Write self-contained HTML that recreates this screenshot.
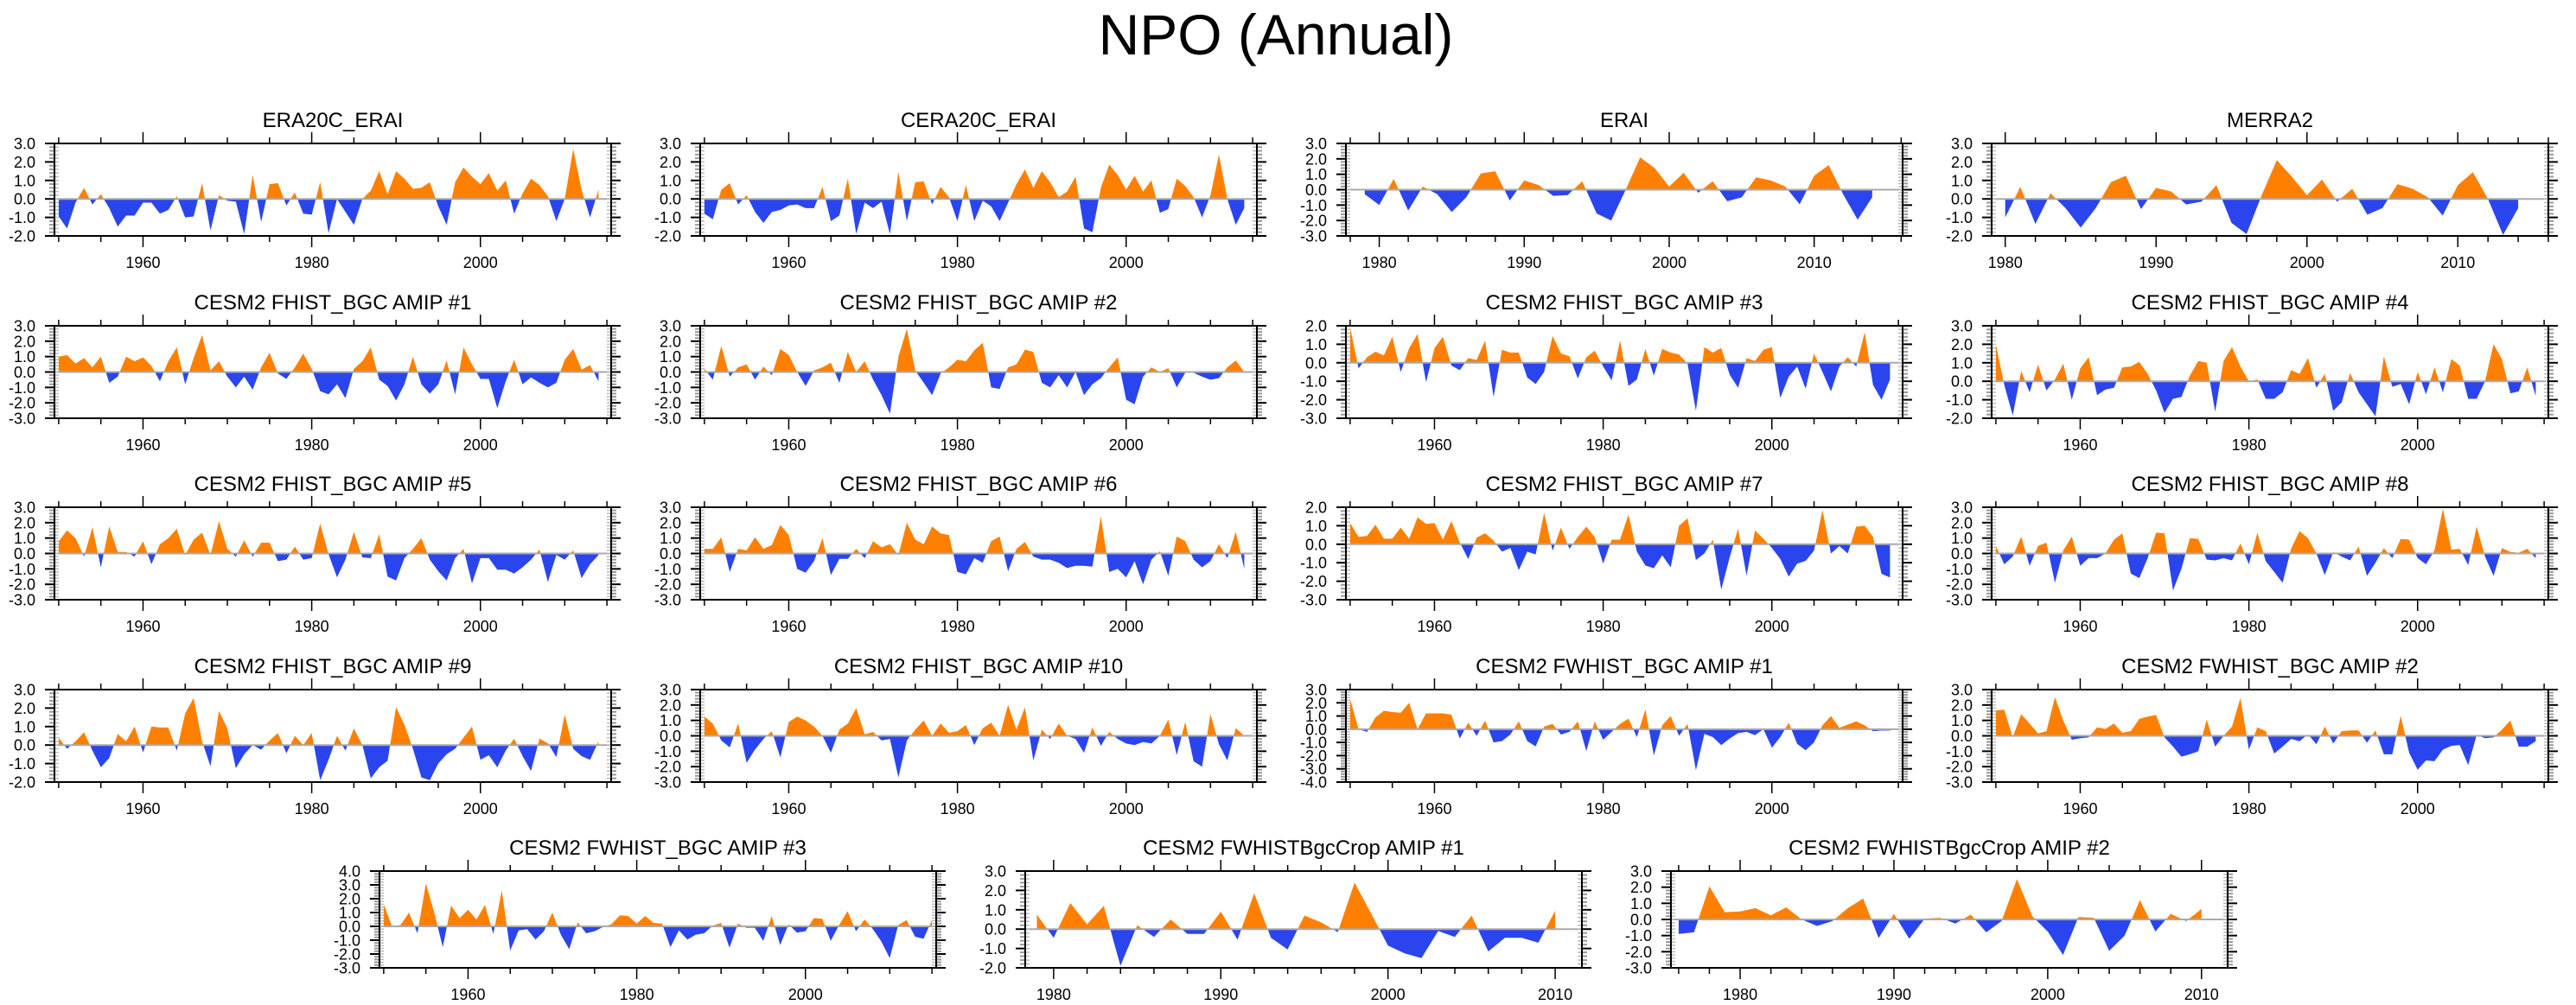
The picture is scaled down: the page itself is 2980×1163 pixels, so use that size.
<!DOCTYPE html>
<html><head><meta charset="utf-8"><style>
html,body{margin:0;padding:0;background:#fff;}
svg{display:block;font-family:"Liberation Sans",Arial,sans-serif;}
</style></head><body>
<svg id="fig" xmlns="http://www.w3.org/2000/svg" width="2980" height="1163" viewBox="0 0 2980 1163">
<rect x="0" y="0" width="2980" height="1163" fill="#fff"/>
<text x="1476" y="63" font-size="66" text-anchor="middle" fill="#000">NPO (Annual)</text>
</svg>
<script>
// ---- data (annual NPO index values) ----
const era20cVals=[-0.95,-1.6,-0.2,0.6,-0.3,0.25,-0.5,-1.5,-0.9,-0.9,-0.2,-0.2,-0.8,-0.6,0.15,-1.0,-0.95,0.85,-1.7,0.2,-0.1,-0.15,-1.9,1.3,-1.25,0.8,0.85,-0.35,0.35,-0.8,-0.85,0.9,-1.85,0.0,-0.7,-1.4,0.0,0.45,1.5,0.25,1.5,1.1,0.55,0.6,0.9,-0.4,-1.4,0.9,1.7,1.2,0.8,1.4,0.45,1.0,-0.8,0.3,1.1,0.75,0.15,-1.2,0.0,2.7,0.5,-1.0,0.5];
const cera20cVals=[-0.8,-1.1,0.5,0.85,-0.3,0.2,-0.7,-1.3,-0.7,-0.6,-0.35,-0.3,-0.5,-0.5,0.65,-1.2,-0.9,1.1,-1.9,-0.2,-0.5,-0.15,-1.9,1.45,-1.2,0.9,0.95,-0.3,0.65,0.1,-1.2,0.75,-1.2,-0.1,-0.4,-1.2,-0.2,0.8,1.6,0.6,1.5,0.9,0.1,0.4,1.2,-1.6,-1.8,0.6,1.85,1.3,0.5,1.25,0.4,1.0,-0.75,-0.55,1.1,0.7,0.1,-1.0,0.2,2.4,0.0,-1.4,-0.5];
const eraiVals=[-0.3,-1.0,0.7,-1.35,0.2,-0.3,-1.45,-0.5,1.05,1.2,-0.7,0.6,0.3,-0.4,-0.35,0.55,-1.55,-2.0,0.0,2.1,1.4,0.2,1.1,-0.2,0.55,-0.75,-0.5,0.8,0.6,0.2,-0.95,0.9,1.6,-0.3,-1.95,-0.5];
const merra2Vals=[-1.0,0.65,-1.35,0.3,-0.5,-1.55,-0.5,0.9,1.25,-0.55,0.6,0.4,-0.3,-0.15,0.75,-1.3,-1.9,0.2,2.1,1.2,0.2,1.05,-0.15,0.55,-0.85,-0.5,0.8,0.55,0.1,-0.9,0.75,1.45,0.0,-1.95,-0.5];
const fh1Vals=[1.0,1.1,0.55,0.9,0.3,1.0,-0.7,-0.3,1.0,0.7,0.95,0.4,-0.6,0.7,1.6,-0.8,0.9,2.4,0.1,0.7,-0.3,-1.0,-0.3,-1.15,0.3,1.25,-0.1,-0.45,0.3,1.2,0.2,-1.25,-1.45,-0.8,-1.7,0.2,0.7,1.6,-0.5,-0.9,-1.85,-0.8,1.0,-0.8,-1.4,-0.8,0.75,-1.45,1.6,0.5,-0.45,-0.45,-2.35,-0.6,0.8,-0.8,-0.35,-0.7,-1.0,-0.7,0.8,1.5,0.15,0.45,-0.6];
const fh2Vals=[0.2,-0.5,1.7,-0.3,0.3,0.5,-0.5,0.35,-0.2,1.5,1.1,0.0,-0.9,0.1,0.3,0.6,-0.7,1.3,0.0,0.7,-0.5,-1.5,-2.7,1.0,2.8,0.1,-0.7,-1.5,-0.1,0.3,0.8,0.7,1.4,1.9,-1.0,-1.1,0.3,0.5,1.45,1.3,-0.7,-1.0,-0.2,-1.0,0.0,-1.5,-0.8,-0.4,0.3,0.95,-1.8,-2.1,-0.3,0.3,0.0,0.25,-1.0,-0.05,-0.05,-0.3,-0.5,-0.4,0.3,0.75,0.0];
const fh3Vals=[1.9,-0.3,0.3,0.6,0.4,1.4,-0.5,0.8,1.55,-1.05,0.8,1.4,-0.15,-0.4,0.25,0.15,1.2,-1.85,0.7,0.55,0.55,-0.8,-1.15,-0.5,1.45,0.5,0.35,-0.85,0.3,0.65,-0.2,-0.95,1.2,-1.25,-0.9,0.75,-0.7,0.75,0.55,0.45,-0.05,-2.6,0.85,0.55,0.8,-0.65,-1.35,0.25,0.1,0.7,0.85,-1.9,-0.75,-0.2,-1.4,0.5,-0.5,-1.55,-0.2,0.3,-0.2,1.65,-1.2,-2.0,-0.9];
const fh4Vals=[2.0,-0.2,-1.85,0.55,-0.6,0.9,-0.5,0.1,0.95,-1.0,0.7,1.3,-0.75,-0.45,-0.35,0.75,0.8,1.05,0.4,-0.5,-1.7,-0.95,-0.85,0.3,1.1,1.0,-1.65,1.1,1.85,0.8,0.0,0.1,-0.95,-0.95,-0.6,0.6,0.4,1.25,-0.35,0.4,-1.6,-1.15,0.45,-0.6,-1.25,-1.9,1.35,-0.3,-0.15,-1.25,0.5,-0.7,0.75,-0.6,1.2,0.85,-0.95,-0.95,0.0,2.0,1.2,-0.65,-0.55,0.75,-0.8];
const fh5Vals=[0.8,1.5,1.0,-0.2,1.7,-0.9,1.75,0.1,0.1,-0.2,0.8,-0.7,0.6,1.0,1.6,-0.1,0.9,1.35,-0.1,2.1,0.3,-0.2,0.85,-0.2,0.7,0.7,-0.5,-0.4,0.45,-0.4,-0.3,1.95,-0.05,-1.55,-0.4,1.4,-0.25,-0.3,1.25,-1.5,-1.75,-0.3,0.3,1.0,-0.4,-1.15,-1.75,-0.3,0.3,-1.95,-0.3,-0.3,-1.05,-1.05,-1.3,-0.9,-0.4,0.25,-1.85,-0.1,-0.4,0.2,-1.6,-0.7,-0.1];
const fh6Vals=[0.3,0.3,1.05,-1.2,0.3,0.2,1.05,0.3,0.55,1.85,1.2,-1.0,-1.25,-0.5,1.0,-1.4,-0.35,-0.35,0.3,-0.3,0.8,0.4,0.6,-0.1,2.0,0.9,0.6,1.75,1.3,1.2,-1.2,-1.35,-0.3,-0.6,0.8,1.1,-1.15,0.3,0.75,-0.2,-0.4,-0.4,-0.6,-0.95,-0.8,-0.8,-0.85,2.4,-1.2,-1.0,-1.55,-0.5,-2.0,-0.4,0.15,-1.45,1.1,0.8,-0.4,-0.9,-0.5,0.6,-0.3,1.4,-1.0];
const fh7Vals=[1.15,0.4,0.45,1.05,0.3,0.3,0.9,0.3,1.45,1.1,1.15,0.25,1.25,0.1,-0.8,0.35,0.6,0.2,-0.4,-0.2,-1.4,-0.4,-0.55,1.7,-0.35,0.9,-0.25,0.4,0.95,0.4,-1.05,0.25,0.25,1.6,-0.4,-1.15,-1.3,-0.6,-1.25,1.0,1.4,-0.85,-0.5,0.25,-2.45,-0.7,0.85,-1.7,0.75,0.3,-0.2,-0.8,-1.75,-1.05,-0.9,-0.35,1.85,-0.5,-0.1,-0.5,0.95,1.0,0.4,-1.6,-1.8];
const fh8Vals=[0.5,-0.7,-0.2,1.1,-0.8,0.5,0.7,-1.9,0.2,1.1,-0.8,-0.3,-0.3,0.0,0.9,1.3,-1.3,-1.6,-0.3,1.35,1.3,-2.4,-1.0,1.0,0.95,-0.4,-0.45,-0.3,-0.45,0.65,-0.7,1.35,-0.5,-1.2,-1.9,0.3,1.45,1.0,0.0,-1.4,0.1,-0.2,-0.45,0.45,-1.45,-0.6,0.35,-0.3,0.95,0.9,-0.3,-0.7,0.2,2.9,0.25,0.3,-0.75,1.75,-0.2,-1.45,0.35,0.1,0.05,0.3,-0.3];
const fh9Vals=[0.4,-0.2,0.2,0.7,-0.3,-1.2,-0.7,0.6,0.2,1.0,-0.4,1.0,0.95,0.95,-0.3,1.7,2.55,0.2,-1.15,1.85,0.9,-1.25,-0.5,0.0,-0.25,0.25,0.65,-0.45,0.5,0.0,0.65,-1.9,-0.8,0.5,-0.3,0.9,0.0,-1.8,-1.2,-0.85,2.05,1.1,-0.2,-1.75,-1.9,-1.0,-0.5,-0.2,0.4,1.0,-0.8,-0.55,-1.2,-0.3,0.35,-0.6,-1.4,0.35,0.1,-0.65,1.65,-0.2,-0.6,-0.8,0.2];
const fh10Vals=[1.25,0.8,-0.3,-0.75,0.8,-1.75,-0.9,-0.2,0.3,-1.4,0.9,1.25,1.0,0.6,0.0,-1.1,0.4,0.8,1.8,0.1,0.25,-0.3,-0.2,-2.7,-0.3,0.4,1.0,0.0,0.8,0.2,0.3,0.7,-0.6,0.5,0.85,0.0,2.0,0.4,1.85,-1.6,0.4,-0.2,0.8,0.0,-0.2,-1.1,0.55,-0.65,0.25,-0.2,-0.5,-0.6,-0.4,-0.5,0.0,1.05,-1.25,0.9,-1.65,-2.0,1.4,-0.55,-1.6,0.5,0.0];
const fw1Vals=[2.3,0.0,-0.2,0.9,1.4,1.3,1.25,2.0,0.0,1.2,1.2,1.2,1.1,-0.7,0.5,-0.5,0.65,-1.0,-0.9,-0.4,0.6,-0.9,-1.3,0.2,0.4,-0.4,-0.2,0.6,-1.65,0.6,-0.8,-0.2,0.4,0.8,-0.6,1.5,-2.0,0.3,1.0,-0.5,0.4,-3.1,-0.35,-0.6,-1.2,-0.7,-0.3,-0.2,-0.45,0.0,-1.4,-0.6,0.5,-1.1,-1.6,-1.0,0.3,1.0,0.1,0.35,0.6,0.3,-0.15,-0.1,-0.1];
const fw2Vals=[1.65,1.7,-0.1,1.4,0.8,0.15,0.3,2.5,1.0,-0.25,-0.15,-0.1,0.55,0.45,0.8,0.2,0.3,1.1,1.25,1.35,-0.1,-0.7,-1.35,-1.2,-1.0,1.05,-0.7,0.0,0.6,2.45,-0.9,0.55,0.3,-1.15,-0.7,-0.2,-0.35,0.1,-0.55,0.6,-0.5,0.3,0.35,0.35,-0.45,0.35,-1.2,-1.2,1.3,-1.1,-2.2,-1.6,-1.65,-0.9,-0.65,-0.6,-1.9,0.05,-0.15,-0.1,0.4,1.0,-0.7,-0.7,-0.35];
const fw3Vals=[1.6,0.0,0.1,1.0,-0.5,3.1,1.0,-1.5,1.5,0.6,1.2,0.5,1.55,-0.55,2.6,-1.75,-0.3,-0.2,-0.95,-0.35,1.0,-0.6,-1.65,0.3,-0.5,-0.35,-0.05,0.15,0.8,0.75,0.2,0.75,0.25,0.2,-1.5,-0.3,-0.95,-0.6,-0.5,0.05,0.25,-1.55,0.2,-0.1,-0.1,-1.05,0.75,-1.35,0.15,-0.45,-0.35,0.6,0.55,-1.05,0.1,1.1,-0.35,0.5,-0.2,-1.1,-2.3,0.1,0.45,-0.75,-0.9,0.45];
const crop1Vals=[0.75,-0.45,1.35,0.25,1.2,-1.9,0.2,-0.4,0.5,-0.25,-0.25,0.9,-0.55,1.85,-0.45,-1.05,0.7,0.35,-0.15,2.4,0.8,-0.85,-1.25,-1.5,-0.1,-0.4,0.7,-1.15,-0.45,-0.45,-0.7,0.95];
const crop2Vals=[-0.9,-0.8,2.05,0.45,0.5,0.7,0.25,0.75,0.0,-0.4,-0.1,0.7,1.3,-1.15,0.35,-1.2,0.05,0.1,-0.25,0.3,-0.8,-0.1,2.5,0.2,-0.75,-2.2,0.15,0.1,-1.95,-1.0,1.2,-0.75,0.35,-0.1,0.65];
const panelTitles=["ERA20C_ERAI","CERA20C_ERAI","ERAI","MERRA2","CESM2 FHIST_BGC AMIP #1","CESM2 FHIST_BGC AMIP #2","CESM2 FHIST_BGC AMIP #3","CESM2 FHIST_BGC AMIP #4","CESM2 FHIST_BGC AMIP #5","CESM2 FHIST_BGC AMIP #6","CESM2 FHIST_BGC AMIP #7","CESM2 FHIST_BGC AMIP #8","CESM2 FHIST_BGC AMIP #9","CESM2 FHIST_BGC AMIP #10","CESM2 FWHIST_BGC AMIP #1","CESM2 FWHIST_BGC AMIP #2","CESM2 FWHIST_BGC AMIP #3","CESM2 FWHISTBgcCrop AMIP #1","CESM2 FWHISTBgcCrop AMIP #2"];
const panelSeries=[era20cVals,cera20cVals,eraiVals,merra2Vals,fh1Vals,fh2Vals,fh3Vals,fh4Vals,fh5Vals,fh6Vals,fh7Vals,fh8Vals,fh9Vals,fh10Vals,fw1Vals,fw2Vals,fw3Vals,crop1Vals,crop2Vals];
const startYears=[1950,1950,1979,1980,1950,1950,1950,1950,1950,1950,1950,1950,1950,1950,1950,1950,1950,1979,1976];
const yMins=[-2,-2,-3,-2,-3,-3,-3,-2,-3,-3,-3,-3,-2,-3,-4,-3,-3,-2,-3];
const yMaxs=[3,3,3,3,3,3,2,3,3,3,2,3,3,3,3,3,4,3,3];
const xMins=[1949.5,1949.5,1977.7,1979.1,1949.5,1949.5,1949.5,1949.5,1949.5,1949.5,1949.5,1949.5,1949.5,1949.5,1949.5,1949.5,1949.5,1978.3,1975.5];
const xMaxs=[2015.5,2015.5,2016.1,2016.0,2015.5,2015.5,2015.5,2015.5,2015.5,2015.5,2015.5,2015.5,2015.5,2015.5,2015.5,2015.5,2015.5,2011.6,2011.7];
const longTickLabels=["1960","1980","2000"];
const shortTickLabels=["1980","1990","2000","2010"];

// ---- layout (not data) ----
const NS="http://www.w3.org/2000/svg";
const svg=document.getElementById("fig");
const colL=[63,810,1557,2304], rowT=[166,377,587,798];
const row5L=[439,1186,1933], row5T=1008;
const PW=644;

function el(tag,attrs,parent){const e=document.createElementNS(NS,tag);for(const k in attrs)e.setAttribute(k,attrs[k]);parent.appendChild(e);return e;}

panelSeries.forEach((vals,i)=>{
  let L,T,H;
  if(i<16){L=colL[i%4];T=rowT[Math.floor(i/4)];H=107;}else{L=row5L[i-16];T=row5T;H=112;}
  const R=L+PW,B=T+H;
  const x0=xMins[i],x1=xMaxs[i],y0=yMins[i],y1=yMaxs[i];
  const xs=v=>L+(v-x0)/(x1-x0)*PW;
  const ys=v=>B-(v-y0)/(y1-y0)*H;
  const g=el("g",{},svg);
  
  
  const t=el("text",{x:(L+R)/2,y:T-19,"font-size":24,"text-anchor":"middle",fill:"#000"},g);
  t.textContent=panelTitles[i];
  
  
  // fills
  const cid="c"+i;
  const defs=el("defs",{},g);
  const cpA=el("clipPath",{id:cid+"a"},defs);
  el("rect",{x:L,y:T,width:PW,height:ys(0)-T},cpA);
  const cpB=el("clipPath",{id:cid+"b"},defs);
  el("rect",{x:L,y:ys(0),width:PW,height:B-ys(0)},cpB);
  let d="M"+xs(startYears[i]).toFixed(1)+","+ys(0).toFixed(1);
  vals.forEach((v,k)=>{d+=" L"+xs(startYears[i]+k).toFixed(1)+","+ys(v).toFixed(1);});
  d+=" L"+xs(startYears[i]+vals.length-1).toFixed(1)+","+ys(0).toFixed(1)+" Z";
  const pa=el("path",{d:d,fill:"#ff8000","clip-path":"url(#"+cid+"a)"},g);
  
  
  const pb=el("path",{d:d,fill:"#2a45ee","clip-path":"url(#"+cid+"b)"},g);
  
  
  const zl=el("line",{x1:L,x2:R,y1:ys(0),y2:ys(0),stroke:"#aaaaaa","stroke-width":2},g);
  
  
  // y ticks
  for(let v=y0;v<=y1+1e-6;v+=0.2){
    const yy=ys(v);const major=Math.abs(v-Math.round(v))<1e-6;
    const len=major?11:6,col=major?"#000":"#999";
    el("line",{x1:L-len,x2:L,y1:yy,y2:yy,stroke:col,"stroke-width":2},g);
    el("line",{x1:R,x2:R+len,y1:yy,y2:yy,stroke:col,"stroke-width":2},g);
    el("line",{x1:L,x2:L+5,y1:yy,y2:yy,stroke:"#bbb","stroke-width":1.5},g);
    el("line",{x1:R-5,x2:R,y1:yy,y2:yy,stroke:"#bbb","stroke-width":1.5},g);
    if(major){
      const lb=el("text",{x:L-22,y:yy+6.5,"font-size":18,"text-anchor":"end",fill:"#000"},g);
      lb.textContent=(Math.round(v)).toFixed(1);
      
      
    }
  }
  // x ticks
  const longAx=(x0<1960);
  const labels=longAx?longTickLabels:shortTickLabels;
  const step=longAx?5:2;
  for(let yr=Math.ceil(x0/step)*step;yr<=x1;yr+=step){
    const xx=xs(yr);const major=labels.indexOf(String(yr))>=0;
    const len=major?13:7;
    el("line",{x1:xx,x2:xx,y1:T-len,y2:T,stroke:"#000","stroke-width":1.5},g);
    el("line",{x1:xx,x2:xx,y1:B,y2:B+len,stroke:"#000","stroke-width":1.5},g);
  }
  labels.forEach(s=>{
    const lb=el("text",{x:xs(+s),y:B+37,"font-size":18,"text-anchor":"middle",fill:"#000"},g);
    lb.textContent=s;
    
    
  });
  const fr=el("rect",{x:L,y:T,width:PW,height:H,fill:"none",stroke:"#000","stroke-width":2},g);
  
  
});
</script>
</body></html>
